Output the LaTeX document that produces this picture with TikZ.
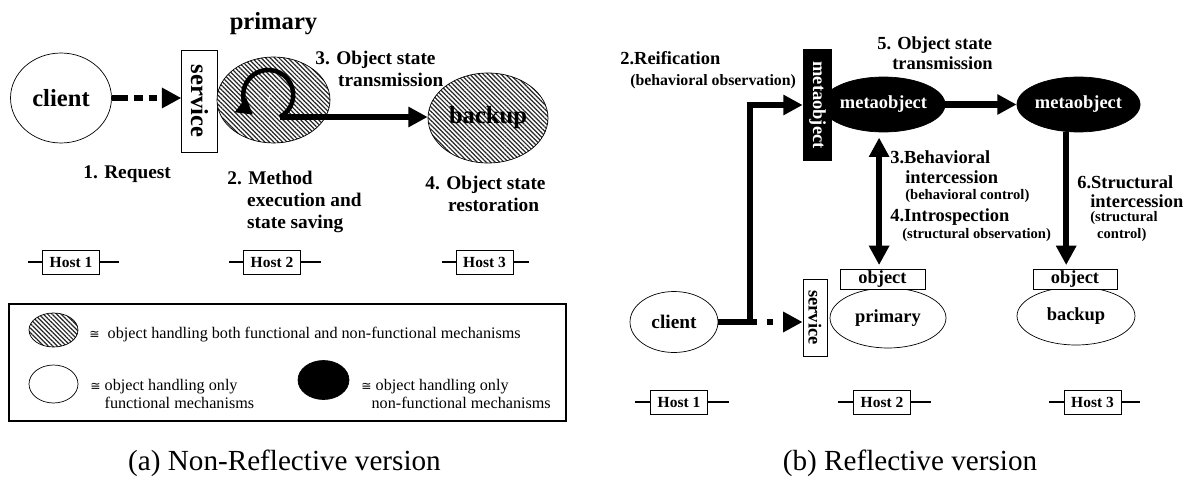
\documentclass[tikz,border=0pt]{standalone}
\usepackage{fontspec}
\setmainfont{Liberation Serif}
\newfontfamily\symf{DejaVu Sans}
\usetikzlibrary{arrows.meta,patterns.meta,shapes.geometric,positioning}

\newcommand\hugef{\fontsize{14}{16}\selectfont\bfseries}
\newcommand\labf{\fontsize{11}{12.5}\selectfont\bfseries}
\newcommand\midf{\fontsize{10.5}{10}\selectfont\bfseries}
\newcommand\smlf{\fontsize{8.3}{9}\selectfont\bfseries}
\newcommand\legf{\fontsize{9.2}{10.2}\selectfont}
\newcommand\capf{\fontsize{16.6}{18}\selectfont}
\newcommand\iso{{\symf\fontsize{7}{7}\selectfont ≅}}

\begin{document}
\begin{tikzpicture}[x=0.02cm,y=-0.02cm,
    >={Triangle[length=11pt,width=11pt]},
    every node/.style={inner sep=0pt},
    obj/.style={ellipse,draw,line width=0.4pt,fill=white},
    hatched/.style={ellipse,draw,line width=0.4pt,preaction={fill=white},
      pattern={Lines[angle=-45,distance=1.8pt,line width=0.7pt]},pattern color=black!85},
    meta/.style={ellipse,draw,fill=black,text=white},
    box/.style={rectangle,draw,line width=0.5pt,fill=white},
    host/.style={box,minimum width=1.14cm,minimum height=0.48cm,font=\fontsize{8.8}{10}\selectfont\bfseries},
    wire/.style={line width=1.1pt},
    lab/.style={anchor=north west,align=left},
    fat/.style={line width=3.6pt}]
\useasboundingbox (0,0) rectangle (1191,490);

\node[obj,minimum width=2.02cm,minimum height=1.8cm,font=\hugef] (client) at (61,98) {client};
\node[box,rotate=-90,minimum width=2.04cm,minimum height=0.71cm,font=\hugef] (service) at (199.5,101) {service};
\node[hatched,minimum width=2.26cm,minimum height=1.72cm] (primary) at (273.5,100) {};
\node[text=white,font=\fontsize{6}{6}\selectfont\itshape] (f) at (269,100) {f};
\node[hatched,minimum width=2.4cm,minimum height=1.8cm,font=\hugef] (backup) at (488,118) {backup};
\node[font=\hugef,anchor=base] (primlab) at (273.5,29.6) {primary};

\draw[fat,->,dash pattern=on 9pt off 3.5pt on 5pt off 3.5pt on 4.5pt off 20pt] (client.east) -- (client.east -| service.south);
\coordinate (lstart) at (280,117);
\draw[line width=2.6pt,-{Triangle[length=9pt,width=10pt]}] (lstart) arc[start angle=62,end angle=-232,radius=25];
\draw[fat,->] (lstart) -- (lstart -| backup.west);

\node[lab,font=\labf] (req) at (83,165.5) {1. Request};
\node[lab,font=\labf] (meth) at (227,170.5) {2. Method\\\hspace*{11.3pt}execution and\\\hspace*{11.3pt}state saving};
\node[lab,font=\labf] (trans) at (315,50.5) {3. Object state\\\hspace*{13pt}transmission};
\node[lab,font=\labf] (rest) at (425,175.5) {4. Object state\\\hspace*{13pt}restoration};

\node[host] (h1a) at (71,262) {Host 1};
\draw[wire] (h1a.west) -- ++(-14,0) (h1a.east) -- ++(19,0);
\node[host] (h2a) at (272,262) {Host 2};
\draw[wire] (h2a.west) -- ++(-14,0) (h2a.east) -- ++(20,0);
\node[host] (h3a) at (484.5,262) {Host 3};
\draw[wire] (h3a.west) -- ++(-14,0) (h3a.east) -- ++(16,0);

\draw[line width=1.3pt] (9,304) rectangle (566,421);
\node[hatched,minimum width=0.98cm,minimum height=0.68cm] (lghatch) at (53.5,330) {};
\node[lab,font=\legf] (lgtxt1) at (89,327) {\iso\ \ object handling both functional and non-functional mechanisms};
\node[obj,minimum width=0.98cm,minimum height=0.76cm] (lgwhite) at (53.5,384) {};
\node[lab,font=\legf] (lgtxt2) at (90,379) {\iso\ object handling only\\\phantom{\iso\ }functional mechanisms};
\node[meta,minimum width=1.02cm,minimum height=0.78cm] (lgblack) at (323.5,380) {};
\node[lab,font=\legf] (lgtxt3) at (361,379) {\iso\ object handling only\\\phantom{\iso}non-functional mechanisms};

\node[font=\capf,anchor=base] (capa) at (284.5,470) {(a) Non-Reflective version};
\node[font=\capf,anchor=base] (capb) at (910,470) {(b) Reflective version};

\node[meta,minimum width=2.08cm,minimum height=1.1cm,font=\midf] (meta1) at (883.5,104.5) {metaobject};
\node[meta,minimum width=2.38cm,minimum height=1.1cm,font=\midf] (meta2) at (1078.5,104.5) {metaobject};
\node[rectangle,fill=black,text=white,rotate=-90,minimum width=2.24cm,minimum height=0.58cm,font=\midf] (metabox) at (817.5,105) {metaobject};
\node[obj,minimum width=1.76cm,minimum height=1.22cm,font=\fontsize{11}{12}\selectfont\bfseries] (client2) at (674,322) {client};
\node[box,rotate=-90,minimum width=1.54cm,minimum height=0.48cm,font=\midf] (service2) at (815,317.5) {service};
\node[obj,minimum width=2.32cm,minimum height=1.2cm,font=\midf] (primary2) at (888,318) {primary};
\node[box,minimum width=1.7cm,minimum height=0.4cm,font=\midf] (obj1) at (882.5,279) {object};
\node[obj,minimum width=2.36cm,minimum height=1.16cm,font=\midf] (backup2) at (1076,316) {backup};
\node[box,minimum width=1.68cm,minimum height=0.4cm,font=\midf] (obj2) at (1075,279) {object};

\coordinate (branch) at (750,322);
\draw[fat] (client2.east) -- (branch);
\draw[fat,->,dash pattern=on 4pt off 5.5pt on 3.5pt off 20pt] (branch) -- (branch -| service2.south);
\draw[fat,->] (branch) |- (metabox.south);
\draw[fat,->] (meta1.east) -- (meta2.west);
\coordinate (a3) at ([xshift=-2.5pt]meta1.south);
\draw[fat,<->,shorten <=3pt,shorten >=2pt] (a3) -- (a3 |- obj1.north);
\coordinate (a6) at ([xshift=-7pt]meta2.south);
\draw[fat,->,shorten >=2pt] (a6) -- (a6 |- obj2.north);

\node[lab,font=\midf] (t5) at (877,36) {5. Object state\\[1.3pt]\hspace*{8.5pt}transmission};
\node[lab,font=\midf] (re2) at (620,51) {2.Reification\\[1.9pt]\hspace*{5.7pt}{\fontsize{9}{9}\selectfont\bfseries (behavioral observation)}};
\node[lab,font=\midf] (b3) at (890,150) {3.Behavioral\\[1.3pt]\hspace*{8.5pt}intercession\\[-0.4pt]\hspace*{8.5pt}{\smlf (behavioral control)}};
\node[lab,font=\midf] (i4) at (890,208) {4.Introspection\\[-0.4pt]\hspace*{6.8pt}{\smlf (structural observation)}};
\node[lab,font=\midf] (s6) at (1077,175) {6.Structural\\[0.8pt]\hspace*{7.4pt}intercession\\[-2.1pt]\hspace*{7.4pt}{\smlf (structural}\\[0.2pt]\hspace*{11.3pt}{\smlf control)}};

\node[host] (h1b) at (679,402) {Host 1};
\draw[wire] (h1b.west) -- ++(-15,0) (h1b.east) -- ++(21,0);
\node[host] (h2b) at (882,402) {Host 2};
\draw[wire] (h2b.west) -- ++(-15,0) (h2b.east) -- ++(20,0);
\node[host] (h3b) at (1092.5,402) {Host 3};
\draw[wire] (h3b.west) -- ++(-15,0) (h3b.east) -- ++(19,0);
\end{tikzpicture}
\end{document}
